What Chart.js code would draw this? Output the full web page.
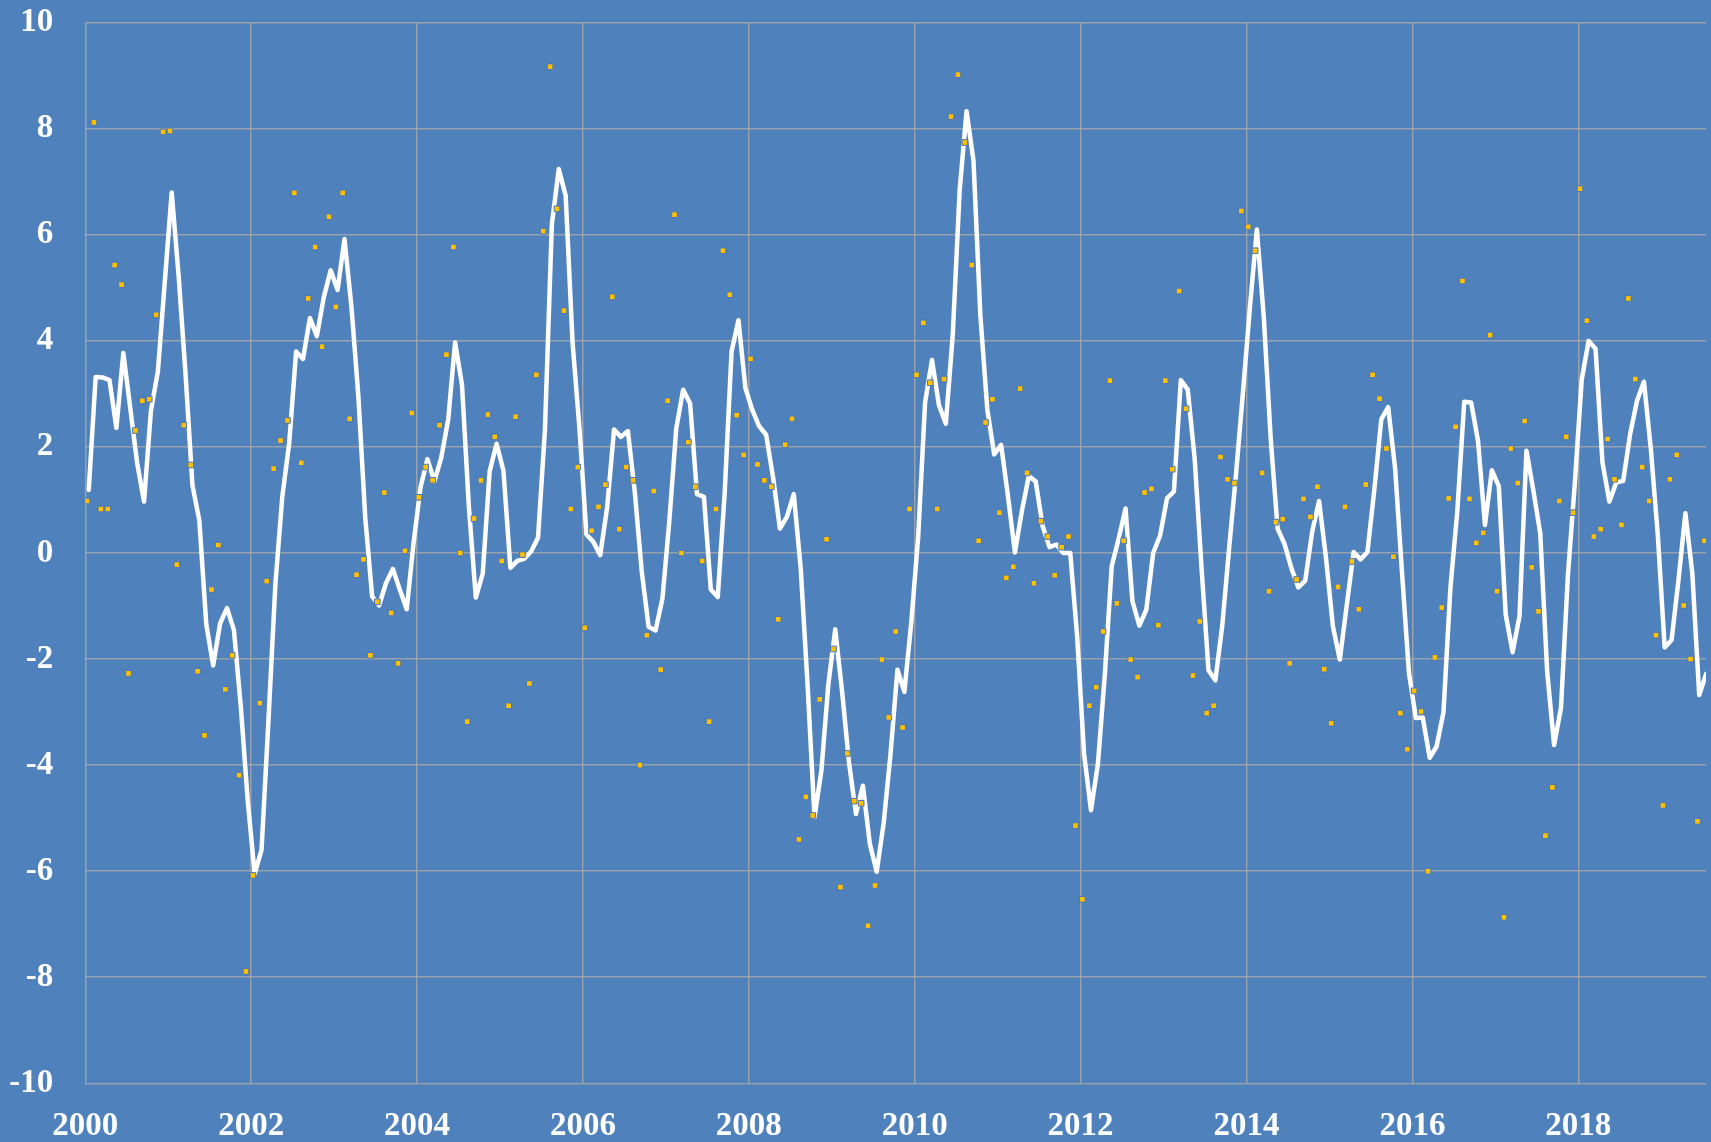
<!DOCTYPE html>
<html>
<head>
<meta charset="utf-8">
<script src="https://cdn.jsdelivr.net/npm/chart.js@4.4.1/dist/chart.umd.min.js"></script>
<style>
  html, body { margin: 0; padding: 0; background: #4f81bd; }
  #wrap { width: 1711px; height: 1142px; position: relative; }
</style>
</head>
<body>
<div id="wrap"><canvas id="chart"></canvas></div>
<script>
// --- data ---
const firstYear = 2000;
const yearTicks = [2000, 2002, 2004, 2006, 2008, 2010, 2012, 2014, 2016, 2018];
const valueTicks = [-10, -8, -6, -4, -2, 0, 2, 4, 6, 8, 10];

// monthly values (yellow squares), Jan 2000 .. Jul 2019
const monthlyValues = [
  0.98, 8.12, 0.83, 0.83, 5.43, 5.06, -2.27, 2.31, 2.87, 2.90, 4.49, 7.94,
  7.96, -0.22, 2.41, 1.66, -2.23, -3.44, -0.69, 0.15, -2.57, -1.93, -4.19, -7.89,
  -6.08, -2.83, -0.53, 1.59, 2.12, 2.50, 6.79, 1.70, 4.80, 5.77, 3.89, 6.34,
  4.64, 6.79, 2.53, -0.41, -0.12, -1.93, -0.92, 1.14, -1.13, -2.08, 0.04, 2.64,
  1.05, 1.62, 1.37, 2.41, 3.74, 5.77, 0.00, -3.18, 0.65, 1.37, 2.61, 2.19,
  -0.15, -2.88, 2.57, -0.03, -2.46, 3.36, 6.07, 9.17, 6.49, 4.57, 0.83, 1.62,
  -1.41, 0.42, 0.87, 1.29, 4.83, 0.45, 1.62, 1.37, -4.00, -1.55, 1.17, -2.20,
  2.87, 6.38, 0.00, 2.09, 1.25, -0.15, -3.18, 0.83, 5.70, 4.87, 2.60, 1.85,
  3.66, 1.67, 1.37, 1.25, -1.25, 2.04, 2.53, -5.40, -4.60, -4.95, -2.76, 0.26,
  -1.81, -6.30, -3.78, -4.68, -4.72, -7.03, -6.27, -2.01, -3.10, -1.48, -3.29, 0.83,
  3.36, 4.34, 3.21, 0.83, 3.28, 8.23, 9.02, 7.74, 5.43, 0.23, 2.46, 2.90,
  0.76, -0.47, -0.26, 3.10, 1.51, -0.57, 0.60, 0.31, -0.42, 0.11, 0.31, -5.14,
  -6.53, -2.88, -2.53, -1.48, 3.25, -0.95, 0.23, -2.01, -2.34, 1.14, 1.21, -1.36,
  3.25, 1.58, 4.94, 2.72, -2.31, -1.29, -3.02, -2.88, 1.81, 1.39, 1.32, 6.45,
  6.15, 5.70, 1.51, -0.72, 0.58, 0.64, -2.08, -0.50, 1.02, 0.68, 1.25, -2.19,
  -3.21, -0.64, 0.87, -0.16, -1.06, 1.29, 3.36, 2.91, 1.97, -0.07, -3.02, -3.70,
  -2.60, -2.99, -6.00, -1.97, -1.03, 1.03, 2.38, 5.13, 1.02, 0.19, 0.38, 4.11,
  -0.72, -6.87, 1.97, 1.32, 2.49, -0.27, -1.10, -5.33, -4.42, 0.98, 2.19, 0.76,
  6.87, 4.38, 0.31, 0.45, 2.15, 1.39, 0.53, 4.80, 3.28, 1.62, 0.98, -1.55,
  -4.76, 1.39, 1.85, -0.99, -2.00, -5.06, 0.23
];

// smoothed line (white), same months
const smoothedValues = [
  1.19, 3.32, 3.31, 3.26, 2.36, 3.77, 2.74, 1.70, 0.97, 2.69, 3.42, 5.11,
  6.80, 5.23, 3.38, 1.28, 0.61, -1.34, -2.12, -1.33, -1.04, -1.45, -2.90, -4.67,
  -6.05, -5.60, -3.15, -0.59, 1.06, 2.07, 3.80, 3.66, 4.43, 4.09, 4.82, 5.33,
  4.96, 5.92, 4.65, 2.97, 0.67, -0.82, -0.99, -0.57, -0.30, -0.69, -1.06, 0.20,
  1.24, 1.77, 1.35, 1.80, 2.51, 3.97, 3.17, 0.86, -0.84, -0.39, 1.54, 2.06,
  1.55, -0.28, -0.15, -0.11, 0.03, 0.29, 2.32, 6.20, 7.24, 6.74, 3.96, 2.34,
  0.35, 0.21, -0.04, 0.86, 2.33, 2.19, 2.30, 1.15, -0.34, -1.39, -1.46, -0.86,
  0.61, 2.35, 3.08, 2.82, 1.11, 1.06, -0.69, -0.83, 1.12, 3.80, 4.39, 3.11,
  2.70, 2.39, 2.23, 1.43, 0.46, 0.68, 1.11, -0.28, -2.49, -4.98, -4.10, -2.48,
  -1.44, -2.62, -3.96, -4.92, -4.39, -5.48, -6.01, -5.10, -3.79, -2.20, -2.62, -1.31,
  0.30, 2.84, 3.64, 2.79, 2.44, 4.11, 6.84, 8.33, 7.40, 4.47, 2.71, 1.86,
  2.04, 1.06, 0.01, 0.79, 1.45, 1.35, 0.51, 0.11, 0.16, 0.00, 0.00, -1.57,
  -3.79, -4.85, -3.98, -2.30, -0.25, 0.27, 0.84, -0.91, -1.37, -1.07, 0.00, 0.33,
  1.03, 1.16, 3.26, 3.08, 1.78, -0.29, -2.21, -2.40, -1.36, 0.11, 1.51, 3.05,
  4.64, 6.10, 4.45, 2.16, 0.46, 0.17, -0.29, -0.65, -0.52, 0.40, 0.98, -0.09,
  -1.38, -2.01, -0.99, 0.02, -0.12, 0.02, 1.20, 2.52, 2.75, 1.60, -0.37, -2.26,
  -3.11, -3.10, -3.86, -3.65, -3.00, -0.66, 0.79, 2.85, 2.84, 2.11, 0.53, 1.56,
  1.26, -1.16, -1.87, -1.19, 1.93, 1.18, 0.37, -2.23, -3.62, -2.92, -0.42, 1.31,
  3.27, 4.00, 3.85, 1.71, 0.97, 1.33, 1.36, 2.24, 2.87, 3.23, 1.96, 0.35,
  -1.78, -1.64, -0.51, 0.75, -0.38, -2.68, -2.28
];

// --- styling ---
const gridColor = 'rgba(170,170,170,0.8)';
const labelFont = { family: '"Liberation Serif", "DejaVu Serif", serif', size: 33, weight: 'bold' };

// month index -> decimal year on the x axis
function monthX(i, shift) {
  return firstYear + (i + shift) / 12;
}

const squarePoints = monthlyValues.map((v, i) => ({ x: monthX(i, 0.25), y: v }));
const linePoints = smoothedValues.map((v, i) => ({ x: monthX(i, 0.5), y: v }));

new Chart(document.getElementById('chart'), {
  type: 'scatter',
  data: {
    datasets: [
      {
        type: 'scatter',
        data: squarePoints,
        pointStyle: 'rect',
        pointRadius: 4,
        backgroundColor: '#ffc000',
        borderColor: '#4a77b3',
        borderWidth: 1,
        order: 0
      },
      {
        type: 'line',
        data: linePoints,
        borderColor: '#ffffff',
        borderWidth: 4.5,
        borderJoinStyle: 'round',
        borderCapStyle: 'round',
        pointRadius: 0,
        tension: 0,
        fill: false,
        order: 1
      }
    ]
  },
  options: {
    responsive: true,
    maintainAspectRatio: false,
    animation: false,
    layout: { padding: { top: 22.7, right: 5, left: 0, bottom: 0 } },
    plugins: {
      legend: { display: false },
      tooltip: { enabled: false }
    },
    scales: {
      x: {
        type: 'linear',
        min: 2000,
        max: 2019.54,
        afterBuildTicks: (axis) => {
          axis.ticks = yearTicks.map((v) => ({ value: v }));
        },
        afterFit: (axis) => { axis.height = 58.7; },
        grid: { color: gridColor, lineWidth: 1.5, drawTicks: false },
        border: { display: false },
        ticks: {
          color: '#ffffff',
          font: labelFont,
          padding: 23,
          maxRotation: 0,
          autoSkip: false,
          callback: (v) => String(v)
        }
      },
      y: {
        min: -10,
        max: 10,
        afterBuildTicks: (axis) => {
          axis.ticks = valueTicks.map((v) => ({ value: v }));
        },
        afterFit: (axis) => { axis.width = 85.3; },
        // invisible tick marks give the label gap without pushing the plot down
        grid: { color: gridColor, lineWidth: 1.5, drawTicks: true, tickLength: 32, tickColor: 'rgba(0,0,0,0)' },
        border: { display: false },
        ticks: {
          color: '#ffffff',
          font: labelFont,
          padding: 0,
          callback: (v) => String(v)
        }
      }
    }
  }
});
</script>
</body>
</html>
